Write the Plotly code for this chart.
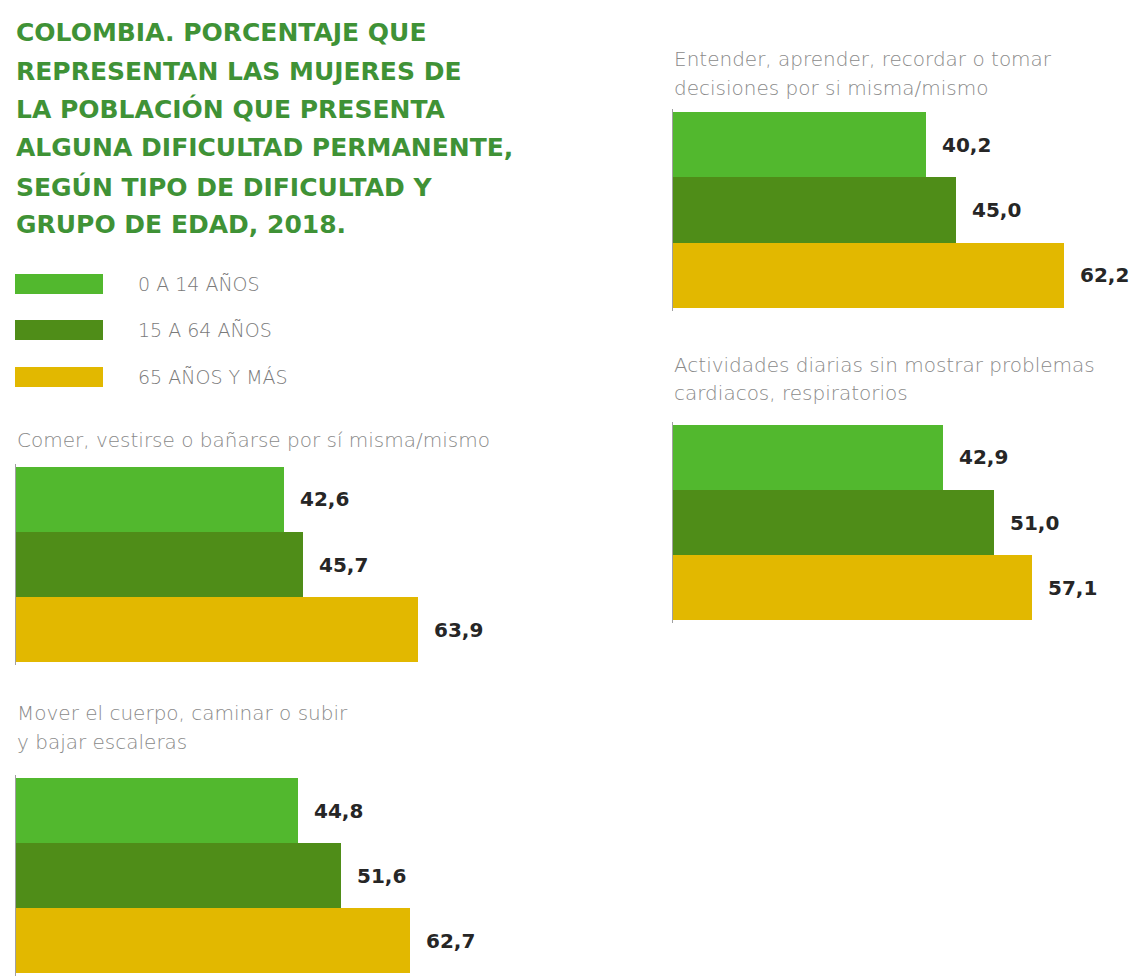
import plotly.graph_objects as go

W, H = 1133, 979

# ---- data ----
groups = ["0 A 14 AÑOS", "15 A 64 AÑOS", "65 AÑOS Y MÁS"]
colors = ["#52b82e", "#4f8d18", "#e2b800"]

comer = [42.6, 45.7, 63.9]
entender = [40.2, 45.0, 62.2]
actividades = [42.9, 51.0, 57.1]
mover = [44.8, 51.6, 62.7]

title_lines = [
    "COLOMBIA. PORCENTAJE QUE",
    "REPRESENTAN LAS MUJERES DE",
    "LA POBLACIÓN QUE PRESENTA",
    "ALGUNA DIFICULTAD PERMANENTE,",
    "SEGÚN TIPO DE DIFICULTAD Y",
    "GRUPO DE EDAD, 2018.",
]
sub_comer = ["Comer, vestirse o bañarse por sí misma/mismo"]
sub_entender = ["Entender, aprender, recordar o tomar", "decisiones por si misma/mismo"]
sub_actividades = ["Actividades diarias sin mostrar problemas", "cardiacos, respiratorios"]
sub_mover = ["Mover el cuerpo, caminar o subir", "y bajar escaleras"]


# ---- pixel -> paper ----
def px(x):
    return x / W


def py(y):
    return 1 - y / H


XMAX = 70
PX_PER_UNIT = 6.29

panels = [
    # values, axis x px, bar top px, bar bottom px, subtitle lines, subtitle y px, subtitle x px
    (comer, 16, 467, 662, sub_comer, [440], 15),
    (entender, 673, 112, 308, sub_entender, [59, 88], 672),
    (actividades, 673, 425, 620, sub_actividades, [365, 393], 672),
    (mover, 16, 778, 973, sub_mover, [713, 742], 15),
]

fig = go.Figure()
annotations = []
layout_axes = {}

label_font = dict(family="DejaVu Sans", size=20, color="#262626", weight=700)
sub_font = dict(family="DejaVu Sans", size=20, color="#8a8a8a", weight=200)

for i, (vals, ax_x, top, bot, subs, sub_ys, sub_x) in enumerate(panels, start=1):
    xa = "x" if i == 1 else f"x{i}"
    ya = "y" if i == 1 else f"y{i}"
    fig.add_trace(go.Bar(
        x=vals, y=[0, 1, 2], orientation="h",
        marker=dict(color=colors, line=dict(width=0)),
        width=1, xaxis=xa, yaxis=ya, showlegend=False, hoverinfo="skip",
    ))
    unit_h = (bot - top) / 3
    pad = 0.05
    layout_axes[f"xaxis{'' if i == 1 else i}"] = dict(
        domain=[px(ax_x), px(ax_x + XMAX * PX_PER_UNIT)], range=[0, XMAX],
        visible=False, anchor=ya, fixedrange=True,
    )
    layout_axes[f"yaxis{'' if i == 1 else i}"] = dict(
        domain=[py(bot + pad * unit_h), py(top - pad * unit_h)],
        range=[2.5 + pad, -0.5 - pad], showline=True, linecolor="#a0a0a0",
        linewidth=1, showticklabels=False, ticks="", showgrid=False,
        zeroline=False, anchor=xa, fixedrange=True,
    )
    for j, v in enumerate(vals):
        annotations.append(dict(
            x=v, y=j, xref=xa, yref=ya, text=f"{v:.1f}".replace(".", ","),
            showarrow=False, xanchor="left", yanchor="middle", xshift=14,
            font=label_font,
        ))
    for s, sy in zip(subs, sub_ys):
        annotations.append(dict(
            x=px(sub_x), y=py(sy), xref="paper", yref="paper", text=s,
            showarrow=False, xanchor="left", yanchor="middle", font=sub_font,
        ))

# title lines
title_ys = [32, 71, 109, 148, 187, 225]
for line, ty in zip(title_lines, title_ys):
    annotations.append(dict(
        x=px(14), y=py(ty), xref="paper", yref="paper", text=line,
        showarrow=False, xanchor="left", yanchor="middle",
        font=dict(family="DejaVu Sans", size=25, color="#3f9236", weight=700),
    ))

# legend
shapes = []
leg_ys = [284, 330, 377]
for g, c, ly in zip(groups, colors, leg_ys):
    shapes.append(dict(
        type="rect", xref="paper", yref="paper",
        x0=px(15), x1=px(103), y0=py(ly + 10), y1=py(ly - 10),
        fillcolor=c, line=dict(width=0),
    ))
    annotations.append(dict(
        x=px(136), y=py(ly), xref="paper", yref="paper", text=g,
        showarrow=False, xanchor="left", yanchor="middle",
        font=dict(family="DejaVu Sans", size=19, color="#7a7a7a", weight=200),
    ))

fig.update_layout(
    width=W, height=H,
    margin=dict(l=0, r=0, t=0, b=0),
    paper_bgcolor="white", plot_bgcolor="rgba(0,0,0,0)",
    annotations=annotations, shapes=shapes,
    bargap=0,
    **layout_axes,
)

fig.write_html(
    "out.html",
    config={"displayModeBar": False, "staticPlot": True},
    post_script="document.body.style.margin='0';document.body.style.overflow='hidden';",
)
